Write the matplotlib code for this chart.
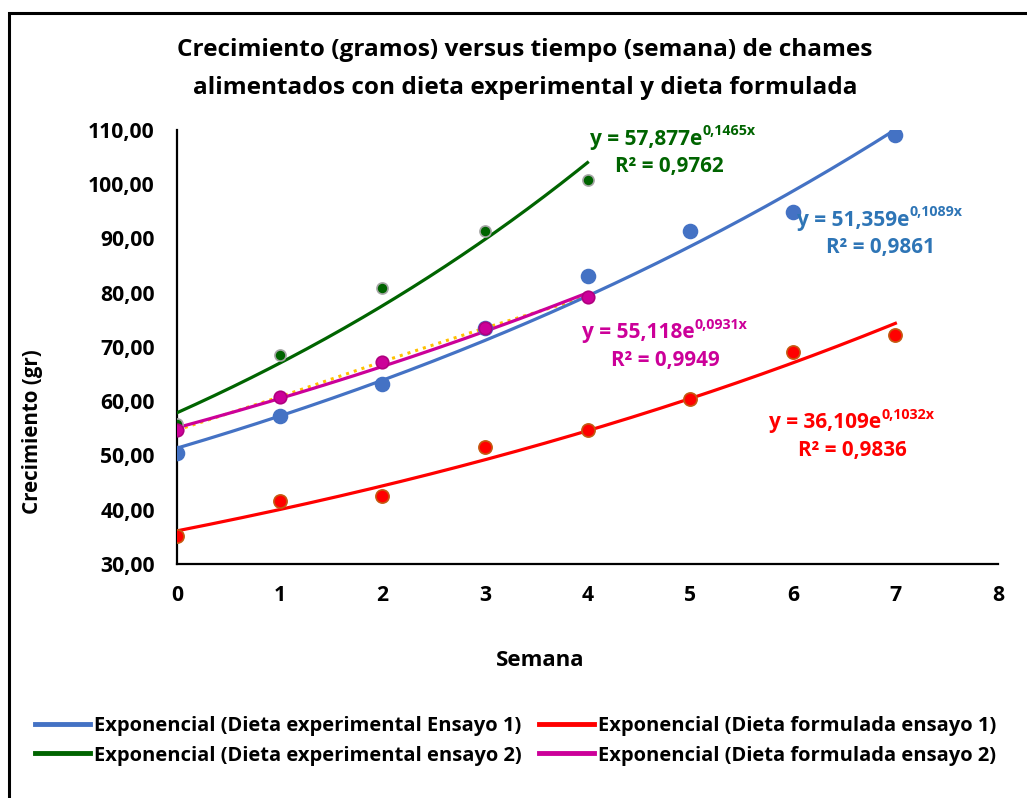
import numpy as np
import matplotlib
matplotlib.use("Agg")
import matplotlib.pyplot as plt
from matplotlib.patches import Rectangle
from matplotlib.lines import Line2D

plt.rcParams['font.family'] = ['Open Sans', 'DejaVu Sans']
plt.rcParams['font.weight'] = 'bold'

# datos
semana_1 = [0, 1, 2, 3, 4, 5, 6, 7]
exp_ensayo1 = [50.4, 57.3, 63.2, 73.5, 83.0, 91.4, 94.8, 109.0]
form_ensayo1 = [35.2, 41.6, 42.5, 51.6, 54.7, 60.4, 69.1, 72.2]

semana_2 = [0, 1, 2, 3, 4]
exp_ensayo2 = [55.8, 68.6, 80.9, 91.4, 100.7]
form_ensayo2 = [54.7, 60.8, 67.3, 73.5, 79.3]

# coeficientes de las lineas de tendencia (y = a*e^(b*x)) y R2
coef_a = [51.359, 36.109, 57.877, 55.118]
coef_b = [0.1089, 0.1032, 0.1465, 0.0931]
r2 = [0.9861, 0.9836, 0.9762, 0.9949]

nombres = ['Exponencial (Dieta experimental Ensayo 1)',
           'Exponencial (Dieta formulada ensayo 1)',
           'Exponencial (Dieta experimental ensayo 2)',
           'Exponencial (Dieta formulada ensayo 2)']

azul = '#4472C4'
rojo = '#FF0000'
verde = '#006400'
magenta = '#CC0099'

fig = plt.figure(figsize=(10.27, 7.98), dpi=100)
ax = fig.add_axes([177/1027, 1 - 564/798, 821/1027, 434/798])

# marco del area del grafico
fig.patches.append(Rectangle((9/1027, -0.1), 1.2, 0.1 + (798-13)/798,
                             transform=fig.transFigure, fill=False,
                             edgecolor='black', linewidth=2.2, zorder=0))

# serie con linea punteada (dieta formulada ensayo 2)
ax.plot(semana_2, form_ensayo2, ':', color='#FFC000', linewidth=2.2, zorder=2)

series = [(semana_1, exp_ensayo1, azul, azul, 10),
          (semana_1, form_ensayo1, rojo, '#C55A11', 9.5),
          (semana_2, exp_ensayo2, verde, '#A6A6A6', 8),
          (semana_2, form_ensayo2, magenta, '#B0007F', 9)]

for i, (xs, ys, col, ecol, ms) in enumerate(series):
    xt = np.linspace(xs[0], xs[-1], 200)
    ax.plot(xt, coef_a[i] * np.exp(coef_b[i] * xt), color=col,
            linewidth=2.3, zorder=3)
    ax.plot(xs, ys, 'o', color=col, markeredgecolor=ecol,
            markeredgewidth=1.2, markersize=ms, zorder=4)

# etiquetas de ecuaciones
def fmt(v, d):
    return f"{v:.{d}f}".replace('.', ',')

pos_eq = [(6.04, 93.4), (5.77, 56.0), (4.025, 108.3), (3.95, 72.6)]
pos_r2 = [(6.85, 88.25), (6.58, 51.0), (4.80, 103.2), (4.76, 67.6)]
cols_txt = ['#2E75B6', rojo, verde, magenta]
for i in range(4):
    base = ax.text(pos_eq[i][0], pos_eq[i][1], f"y = {fmt(coef_a[i], 3)}e",
                   ha='left', va='center', fontsize=15, color=cols_txt[i],
                   fontweight='bold', zorder=5)
    ax.annotate(f"{fmt(coef_b[i], 4)}x", xy=(1.0, 0.55), xycoords=base,
                ha='left', va='bottom', fontsize=10.3, color=cols_txt[i],
                fontweight='bold')
    ax.text(pos_r2[i][0], pos_r2[i][1], f"R² = {fmt(r2[i], 4)}",
            ha='center', va='center', fontsize=14.9, color=cols_txt[i],
            fontweight='bold', zorder=5)

ax.set_xlim(0, 8)
ax.set_ylim(30, 110)
ax.set_xticks(range(0, 9))
ax.set_yticks(range(30, 111, 10))
ax.set_yticklabels([fmt(v, 2) for v in range(30, 111, 10)])
ax.tick_params(length=0, labelsize=15.2, pad=16)
ax.tick_params(axis='x', pad=15)
for lab in ax.get_xticklabels() + ax.get_yticklabels():
    lab.set_fontweight('bold')

for s in ['top', 'right']:
    ax.spines[s].set_visible(False)
for s in ['left', 'bottom']:
    ax.spines[s].set_linewidth(1.6)

fig.text(540/1027, 1 - 660/798, 'Semana', ha='center', va='center',
         fontsize=16, fontweight='bold')
fig.text(33/1027, 1 - 432/798, 'Crecimiento (gr)', ha='center', va='center',
         rotation=90, fontsize=14.8, fontweight='bold')
fig.text(525/1027, 1 - 69/798,
         'Crecimiento (gramos) versus tiempo (semana) de chames\n'
         'alimentados con dieta experimental y dieta formulada',
         ha='center', va='center', fontsize=17.6, fontweight='bold',
         linespacing=1.8)

handles = [Line2D([], [], color=c, linewidth=3.5) for c in [azul, rojo, verde, magenta]]
order = [0, 2, 1, 3]
leg = fig.legend([handles[k] for k in order], [nombres[k] for k in order],
                 loc='center left', bbox_to_anchor=(35/1027, 1 - 741/798),
                 ncol=2, frameon=False, fontsize=14.5, handlelength=2.75,
                 handletextpad=0.2, columnspacing=0.83, labelspacing=0.45,
                 borderaxespad=0, borderpad=0)
for t in leg.get_texts():
    t.set_fontweight('bold')

fig.savefig('out.png', dpi=100)
